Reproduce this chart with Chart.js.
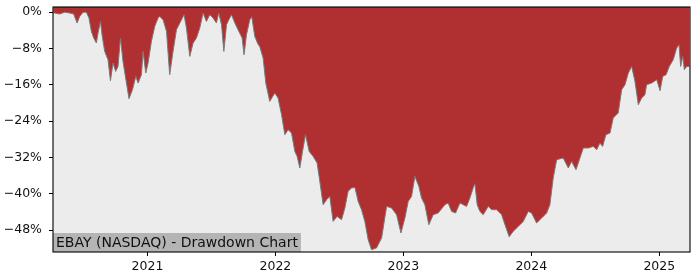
<!DOCTYPE html>
<html>
<head>
<meta charset="utf-8">
<script src="https://cdn.jsdelivr.net/npm/chart.js@4.4.1/dist/chart.umd.min.js"></script>
<style>
  html, body { margin: 0; padding: 0; background: #fff; }
  #wrap { width: 700px; height: 280px; }
</style>
</head>
<body>
<div id="wrap"><canvas id="ddChart" width="700" height="280"></canvas></div>
<script>
// EBAY drawdown (x = fractional year, y = % below peak)
const yearPos = [
  2020.264, 2020.283, 2020.314, 2020.353, 2020.393, 2020.424, 2020.450, 2020.471, 2020.497, 2020.523,
  2020.543, 2020.562, 2020.580, 2020.601, 2020.614, 2020.633, 2020.645, 2020.666, 2020.692, 2020.711,
  2020.731, 2020.752, 2020.770, 2020.789, 2020.809, 2020.836, 2020.856, 2020.883, 2020.909, 2020.927,
  2020.953, 2020.966, 2020.987, 2021.005, 2021.031, 2021.057, 2021.083,
  2021.096, 2021.122, 2021.149, 2021.174, 2021.200, 2021.227, 2021.253, 2021.286, 2021.305, 2021.331,
  2021.357, 2021.383, 2021.409, 2021.435, 2021.461, 2021.487, 2021.513, 2021.539, 2021.557, 2021.579,
  2021.597, 2021.618, 2021.636, 2021.657, 2021.683, 2021.708, 2021.740, 2021.755, 2021.774, 2021.800,
  2021.815, 2021.839, 2021.862,
  2021.878, 2021.904, 2021.925, 2021.956, 2021.995, 2022.021, 2022.048, 2022.074, 2022.099, 2022.126,
  2022.152, 2022.170, 2022.191, 2022.212, 2022.235, 2022.264, 2022.295, 2022.326, 2022.347, 2022.373,
  2022.400, 2022.425, 2022.451, 2022.482, 2022.517, 2022.543, 2022.568, 2022.595, 2022.621, 2022.647,
  2022.673, 2022.699, 2022.725,
  2022.751, 2022.790, 2022.830, 2022.869, 2022.908, 2022.947, 2022.981, 2023.012, 2023.038, 2023.064,
  2023.090, 2023.121, 2023.142, 2023.168, 2023.199, 2023.233, 2023.272, 2023.325, 2023.350, 2023.377,
  2023.408, 2023.442, 2023.468, 2023.494, 2023.520, 2023.546, 2023.559,
  2023.577, 2023.598, 2023.624, 2023.663, 2023.690, 2023.729, 2023.768, 2023.794, 2023.827, 2023.858,
  2023.898, 2023.937, 2023.976, 2024.002, 2024.041, 2024.081, 2024.120, 2024.145, 2024.171, 2024.198,
  2024.249, 2024.289, 2024.315, 2024.349, 2024.380,
  2024.406, 2024.445, 2024.484, 2024.511, 2024.536, 2024.557, 2024.583, 2024.615, 2024.640, 2024.679,
  2024.706, 2024.732, 2024.758, 2024.784, 2024.810, 2024.836, 2024.862, 2024.888, 2024.901, 2024.941,
  2024.980, 2025.006, 2025.027, 2025.053, 2025.078, 2025.109, 2025.136, 2025.154, 2025.167, 2025.183,
  2025.196, 2025.214, 2025.236
];
const drawdown = [
  -0.11, -0.22, -0.40, 0.00, -0.18, -0.40, -2.38, -0.92, 0.00, 0.00,
  -1.28, -4.23, -5.68, -6.78, -4.58, -2.03, -4.95, -8.63, -10.46, -15.08,
  -11.18, -13.03, -11.93, -5.68, -10.83, -15.59, -19.04, -17.06, -14.13, -15.59,
  -13.76, -8.63, -13.39, -11.18, -6.43, -3.13, -1.28,
  -0.92, -1.65, -4.23, -13.76, -8.63, -3.85, -2.38, -0.55, -3.48, -9.73,
  -6.78, -5.68, -3.48, -0.18, -2.03, -0.55, -1.28, -2.38, -0.18, -2.75,
  -8.63, -2.75, -1.65, -0.55, -2.38, -3.85, -5.68, -9.36, -4.95, -1.65,
  -0.99, -5.33, -6.94,
  -7.60, -10.08, -15.59, -19.64, -17.79, -18.89, -22.57, -26.97, -25.87, -26.60,
  -30.65, -31.75, -34.30, -30.65, -26.97, -30.65, -31.75, -33.20, -37.25, -42.38,
  -41.28, -40.56, -46.06, -44.96, -45.69, -43.11, -39.45, -38.71, -38.57, -41.66,
  -43.48, -46.06, -50.09,
  -52.29, -51.92, -49.71, -42.76, -43.11, -44.59, -48.61, -45.31, -41.66, -40.56,
  -36.15, -38.35, -40.91, -42.38, -46.79, -44.59, -44.21, -42.38, -42.01, -43.86,
  -44.21, -42.01, -42.38, -42.76, -40.91, -38.64, -37.76,
  -42.38, -43.86, -44.59, -42.76, -43.48, -43.48, -44.59, -46.79, -49.43, -48.26,
  -47.16, -46.06, -43.86, -44.21, -46.41, -45.31, -44.21, -42.38, -36.50, -32.47,
  -32.10, -34.30, -32.85, -34.68, -32.10,
  -29.90, -29.90, -29.55, -30.27, -28.80, -29.55, -26.97, -26.60, -23.29, -22.19,
  -17.06, -15.96, -13.39, -11.93, -15.24, -20.37, -18.89, -18.16, -15.96, -15.59,
  -14.86, -17.28, -14.13, -13.76, -11.93, -10.46, -7.88, -7.16, -11.93, -9.73,
  -12.66, -11.93, -11.93
];
const yearTicks = [2021, 2022, 2023, 2024, 2025];
const pctTicks = [0, -8, -16, -24, -32, -40, -48];
const chartLabel = 'EBAY (NASDAQ) - Drawdown Chart';

const points = yearPos.map((x, i) => ({ x: x, y: drawdown[i] }));
const tickFont = { family: 'DejaVu Sans', size: 12.5 };

function fmtPct(v) {
    return (v < 0 ? '\u2212' + Math.abs(v) : String(v)) + '%';
}

const framePlugin = {
    id: 'frame',
    beforeDraw(chart) {
        const { ctx, chartArea: a } = chart;
        ctx.save();
        ctx.fillStyle = '#ffffff';
        ctx.fillRect(0, 0, chart.width, chart.height);
        ctx.fillStyle = '#ececec';
        ctx.fillRect(a.left, a.top, a.right - a.left, a.bottom - a.top);
        ctx.restore();
    },
    afterDraw(chart) {
        const { ctx, chartArea: a } = chart;
        ctx.save();
        // label box, bottom left
        ctx.font = '14px "DejaVu Sans"';
        const w = ctx.measureText(chartLabel).width;
        ctx.fillStyle = '#b4b4b4';
        ctx.fillRect(a.left, a.bottom - 19, w + 6, 19);
        ctx.fillStyle = '#111';
        ctx.textBaseline = 'alphabetic';
        ctx.fillText(chartLabel, a.left + 3, a.bottom - 5.5);
        // spines
        ctx.strokeStyle = '#000';
        ctx.lineWidth = 1.1;
        ctx.strokeRect(a.left, a.top, a.right - a.left, a.bottom - a.top);
        ctx.restore();
    }
};

new Chart(document.getElementById('ddChart'), {
    type: 'line',
    data: {
        datasets: [{
            data: points,
            borderColor: '#7a7a7a',
            borderWidth: 1,
            backgroundColor: '#b03031',
            fill: 'end',
            pointRadius: 0,
            tension: 0
        }]
    },
    options: {
        responsive: false,
        animation: false,
        devicePixelRatio: 1,
        layout: { padding: { top: 7, right: 10, left: 0, bottom: 0 } },
        plugins: { legend: { display: false }, tooltip: { enabled: false } },
        scales: {
            x: {
                type: 'linear',
                min: 2020.262,
                max: 2025.240,
                afterBuildTicks: s => { s.ticks = yearTicks.map(v => ({ value: v })); },
                afterFit: s => { s.height = 28; s.paddingLeft = 0; s.paddingRight = 0; },
                grid: { drawOnChartArea: false, tickLength: 4, tickColor: '#000', tickWidth: 1 },
                border: { display: false },
                ticks: { font: tickFont, color: '#111', padding: 3, maxRotation: 0, callback: v => String(v) }
            },
            y: {
                min: -52.8,
                max: 1.15,
                afterBuildTicks: s => { s.ticks = pctTicks.map(v => ({ value: v })); },
                afterFit: s => { s.width = 53; s.paddingTop = 0; s.paddingBottom = 0; },
                grid: { drawOnChartArea: false, tickLength: 4, tickColor: '#000', tickWidth: 1 },
                border: { display: false },
                ticks: { font: tickFont, color: '#111', padding: 7, callback: v => fmtPct(v) }
            }
        }
    },
    plugins: [framePlugin]
});
</script>
</body>
</html>
